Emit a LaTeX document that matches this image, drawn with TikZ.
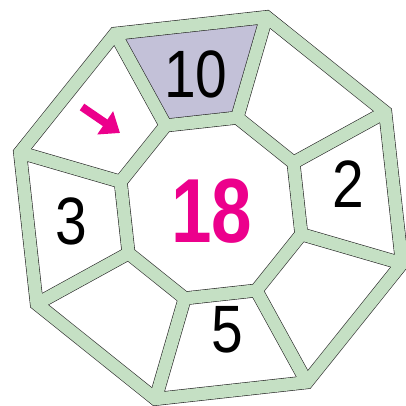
\documentclass[tikz,border=0pt]{standalone}
\usepackage{fontspec}
\setmainfont{Liberation Sans}
\usepackage{tikz}
\usetikzlibrary{arrows.meta}

\definecolor{rimgreen}{RGB}{197,224,196}
\definecolor{tenlilac}{RGB}{195,193,216}
\definecolor{summagenta}{RGB}{236,0,140}

\newcommand{\cellfont}{\fontsize{67}{67}\selectfont}
\newcommand{\sumfont}{\fontsize{91}{91}\selectfont\bfseries}

\begin{document}
\begin{tikzpicture}[
    x=1pt, y=1pt,
    rimblack/.style={draw=black!85, line width=13.7pt, line join=miter},
    rimband/.style={draw=rimgreen, line width=12.5pt, line join=miter},
    cell/.style={font=\cellfont, xscale=0.85, inner sep=0pt},
    total/.style={font=\sumfont, text=summagenta, xscale=0.8, inner sep=0pt},
    hint/.style={-{Triangle[length=18pt, width=27pt]}, line width=8pt,
        draw=summagenta},
]
\useasboundingbox (0,0) rectangle (405,406);

\coordinate (c) at (211,198);
\foreach \i [evaluate=\i as \a using 28.8+45*(\i-1)] in {1,...,8} {
    \path (c) ++(\a:198.9) coordinate (o\i);
    \path (c) ++(\a:94.1) coordinate (n\i);
}

% shaded cell
\fill[tenlilac] (n2) -- (n3) -- (o3) -- (o2) -- cycle;

% frame: dark edge first, green band on top
\foreach \pen in {rimblack, rimband} {
    \draw[\pen] (o1) -- (o2) -- (o3) -- (o4) -- (o5) -- (o6) -- (o7) -- (o8) -- cycle;
    \draw[\pen] (n1) -- (n2) -- (n3) -- (n4) -- (n5) -- (n6) -- (n7) -- (n8) -- cycle;
    \foreach \i in {1,...,8}
        \draw[\pen, line cap=butt] (n\i) -- (o\i);
}

% numbers
\node[cell] (ten) at (196,332) {10};
\node[cell] (two) at (348,222) {2};
\node[cell] (three) at (71,185) {3};
\node[cell] (five) at (227,76) {5};
\node[total] (sum) at (212,195) {18};

\coordinate (arrowtail) at (82,299);
\coordinate (arrowtip) at (120,273);
\draw[hint] (arrowtail) -- (arrowtip);

\end{tikzpicture}
\end{document}
